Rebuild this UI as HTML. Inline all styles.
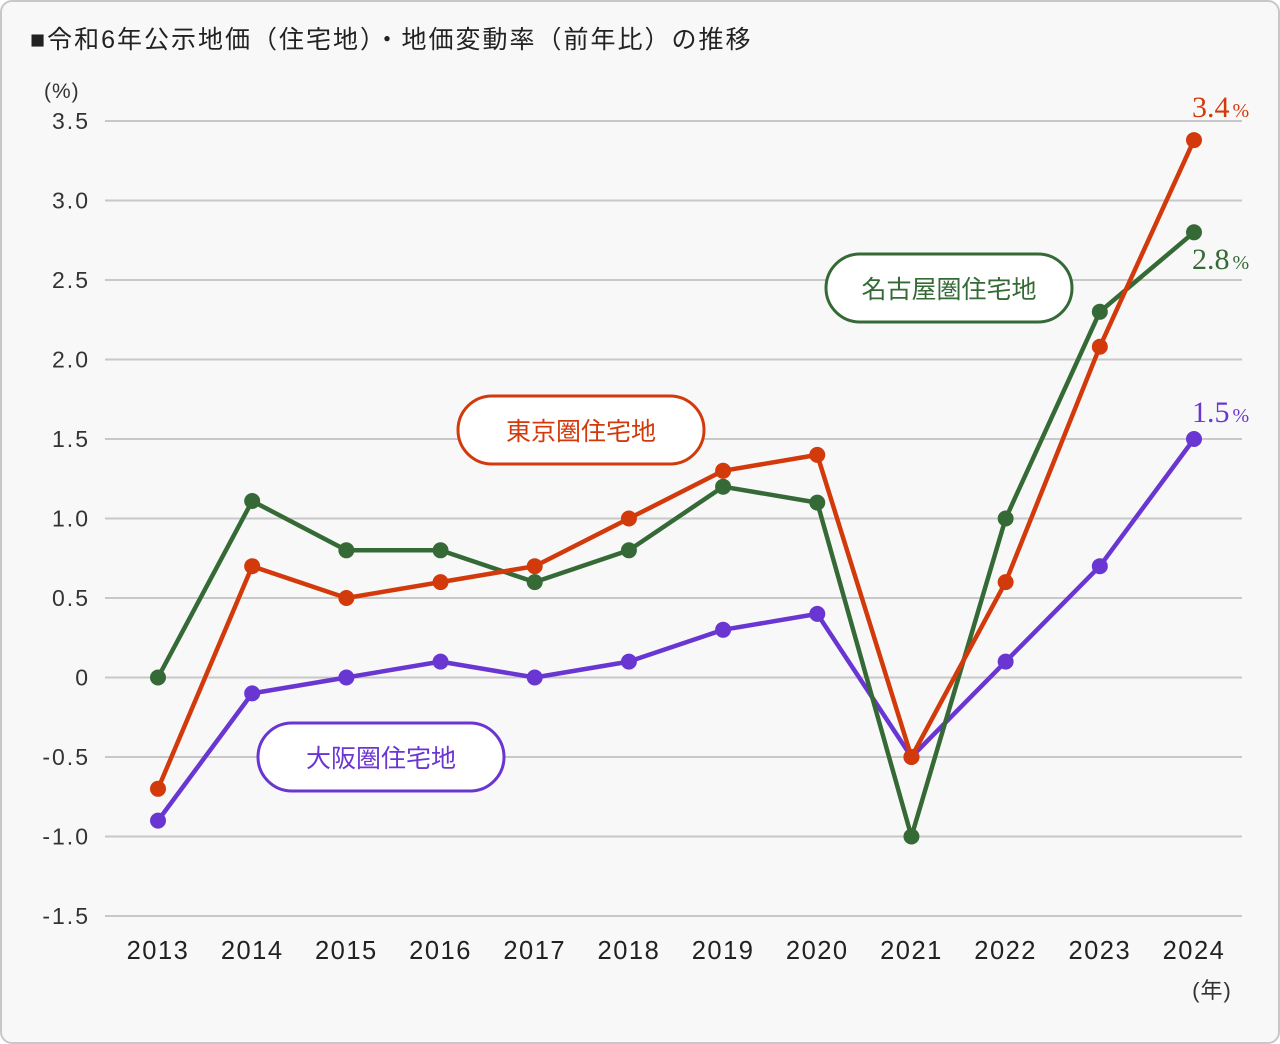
<!DOCTYPE html>
<html><head><meta charset="utf-8">
<style>
html,body{margin:0;padding:0;background:#fff;}
#wrap{position:absolute;left:0;top:0;width:1276px;height:1040px;border:2px solid #c8c8c8;border-radius:12px;background:#f8f8f8;overflow:hidden;}
svg text{font-family:"Liberation Sans","Noto Sans CJK JP",sans-serif;}
</style></head>
<body>
<div id="wrap">
<svg id="chart" width="1280" height="1044" style="position:absolute;left:-2px;top:-2px">
<text x="30" y="48" font-size="25" letter-spacing="2" fill="#222">■令和6年公示地価（住宅地）・地価変動率（前年比）の推移</text>
<text x="44" y="98" font-size="21" letter-spacing="1" fill="#333">(%)</text>
<text x="1212" y="998" font-size="22" letter-spacing="1" fill="#333" text-anchor="middle">(年)</text>
<g id="grid"></g><g id="series"></g><g id="labels"></g>
</svg>
</div>
<script>
const years = ["2013","2014","2015","2016","2017","2018","2019","2020","2021","2022","2023","2024"];
const yTicks = [3.5,3.0,2.5,2.0,1.5,1.0,0.5,0,-0.5,-1.0,-1.5];
const yTickLabels = ["3.5","3.0","2.5","2.0","1.5","1.0","0.5","0","-0.5","-1.0","-1.5"];
const tokyo = [-0.7,0.7,0.5,0.6,0.7,1.0,1.3,1.4,-0.5,0.6,2.08,3.38];
const nagoya = [0,1.11,0.8,0.8,0.6,0.8,1.2,1.1,-1.0,1.0,2.3,2.8];
const osaka = [-0.9,-0.1,0,0.1,0,0.1,0.3,0.4,-0.5,0.1,0.7,1.5];
const endLabels = ["3.4","2.8","1.5"];

const NS="http://www.w3.org/2000/svg";
const xS=i=>158+i*(1036/11);
const yS=v=>677.5-v*159;
function mk(tag,attrs,parent){const e=document.createElementNS(NS,tag);for(const k in attrs)e.setAttribute(k,attrs[k]);parent.appendChild(e);return e;}
const grid=document.getElementById('grid'),ser=document.getElementById('series'),lab=document.getElementById('labels');
yTicks.forEach((v,i)=>{
  const l=mk('line',{x1:105,x2:1242,y1:yS(v),y2:yS(v),stroke:'#c8c8c8','stroke-width':2},grid);
  
  
  const t=mk('text',{x:90,y:yS(v)+8,'font-size':23,'letter-spacing':2,'text-anchor':'end',fill:'#333'},grid);
  t.textContent=yTickLabels[i];
  
  
});
years.forEach((y,i)=>{
  const t=mk('text',{x:xS(i),y:959,'font-size':25.5,'letter-spacing':1.5,'text-anchor':'middle',fill:'#222'},grid);
  t.textContent=y;
  
  
});
function series(data,color,name){
  const g=mk('g',{},ser);
  
  
  const p=mk('polyline',{points:data.map((v,i)=>xS(i)+','+yS(v)).join(' '),fill:'none',stroke:color,'stroke-width':4.5,'stroke-linejoin':'round'},g);
  
  
  data.forEach((v,i)=>{
    const c=mk('circle',{cx:xS(i),cy:yS(v),r:8,fill:color},g);
    
    
  });
}
const RED='#d23a0c',GREEN='#356a36',PURPLE='#6a36d2';
series(osaka,PURPLE,'osaka');
series(nagoya,GREEN,'nagoya');
series(tokyo,RED,'tokyo');
function endLabel(txt,y,color,name){
  const t=mk('text',{x:1192,y:y,fill:color,'font-size':30},lab);
  t.innerHTML=txt+'<tspan font-size="20" dx="3">%</tspan>';
  t.style.fontFamily='"Liberation Serif",serif';
  
  
}
endLabel(endLabels[0],117,RED,'tokyo');
endLabel(endLabels[1],269,GREEN,'nagoya');
endLabel(endLabels[2],422,PURPLE,'osaka');
function bubble(x,y,txt,color,name){
  const r=mk('rect',{x:x,y:y,width:246,height:68,rx:34,fill:'#fff',stroke:color,'stroke-width':3},lab);
  
  
  const t=mk('text',{x:x+123,y:y+44,'text-anchor':'middle','font-size':25,fill:color},lab);
  t.textContent=txt;
  
  
}
bubble(826,254,'名古屋圏住宅地',GREEN,'nagoya');
bubble(458,396,'東京圏住宅地',RED,'tokyo');
bubble(258,723,'大阪圏住宅地',PURPLE,'osaka');
</script>
</body></html>
